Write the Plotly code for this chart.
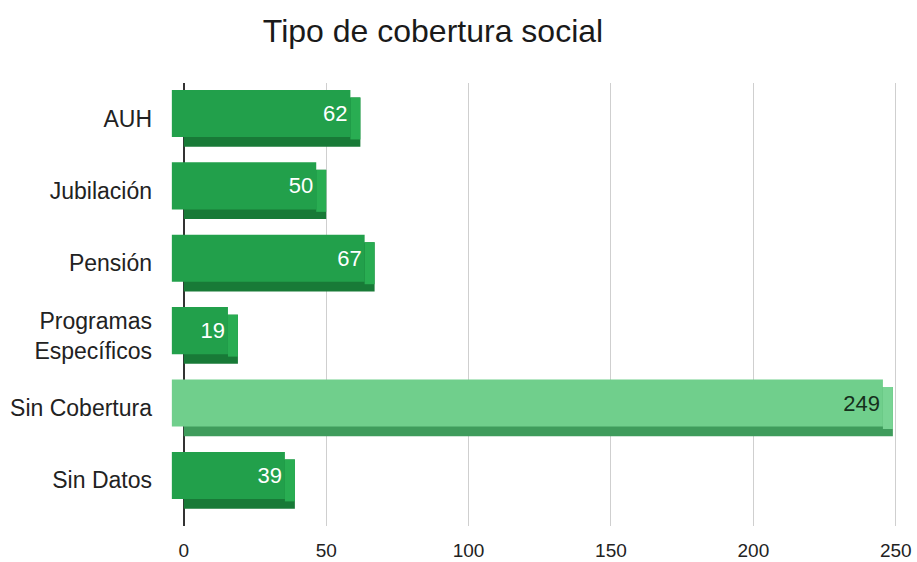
import plotly.graph_objects as go

categories = ["AUH", "Jubilación", "Pensión", "Programas<br>Específicos", "Sin Cobertura", "Sin Datos"]
values = [62, 50, 67, 19, 249, 39]
x_ticks = [0, 50, 100, 150, 200, 250]

front_colors = ["#22a04b", "#22a04b", "#22a04b", "#22a04b", "#70cf8c", "#22a04b"]
depth_colors = ["#187a37", "#187a37", "#187a37", "#187a37", "#3f9c5c", "#187a37"]
side_colors = ["#29ad52", "#29ad52", "#29ad52", "#29ad52", "#79d494", "#29ad52"]
label_colors = ["white", "white", "white", "white", "#15301c", "white"]

depth = 3.5     # extrusion depth in x data units
lead = 4.2      # front face starts this far left of zero

fig = go.Figure()

# bottom/back depth face
fig.add_trace(go.Bar(
    y=categories, x=values, base=0, orientation="h",
    marker=dict(color=depth_colors, line=dict(width=0)),
    width=0.68, offset=-0.29, hoverinfo="skip", showlegend=False,
))
# right side face
fig.add_trace(go.Bar(
    y=categories, x=[depth] * len(values), base=[v - depth for v in values], orientation="h",
    marker=dict(color=side_colors, line=dict(width=0)),
    width=0.58, offset=-0.29, hoverinfo="skip", showlegend=False,
))
# front face
fig.add_trace(go.Bar(
    y=categories, x=[v - depth + lead for v in values], base=-lead, orientation="h",
    marker=dict(color=front_colors, line=dict(width=0)),
    width=0.65, offset=-0.394,
    text=[str(v) for v in values], textposition="inside", insidetextanchor="end",
    textfont=dict(size=22, color=label_colors, family="Liberation Sans, Arial"),
    constraintext="none", cliponaxis=False,
    showlegend=False,
))

fig.update_layout(
    width=917, height=562,
    margin=dict(l=171, r=17, t=83, b=36),
    paper_bgcolor="white", plot_bgcolor="white",
    barmode="overlay",
    font=dict(family="Liberation Sans, Arial", color="#222"),
    title=dict(text="Tipo de cobertura social", x=433 / 917, xref="container", xanchor="center",
               y=1 - 31 / 562, yref="container", yanchor="middle",
               font=dict(size=32, color="#1a1a1a")),
    xaxis=dict(range=[-4.5, 251.5], tickvals=x_ticks, showgrid=True, gridcolor="#cfcfcf",
               gridwidth=1, zeroline=True, zerolinecolor="#333", zerolinewidth=1.5,
               tickfont=dict(size=19, color="#222"), ticks="", ticklabelstandoff=11,
               ticklabeloverflow="allow", automargin=False),
    yaxis=dict(range=[5.63, -0.49], type="category", showgrid=False, zeroline=False,
               tickfont=dict(size=23, color="#222"), ticks="", ticklabelstandoff=18,
               automargin=False),
)

fig.write_html(
    "out.html",
    config={"displayModeBar": False},
    post_script="document.body.style.margin='0';document.body.style.overflow='hidden';",
)
